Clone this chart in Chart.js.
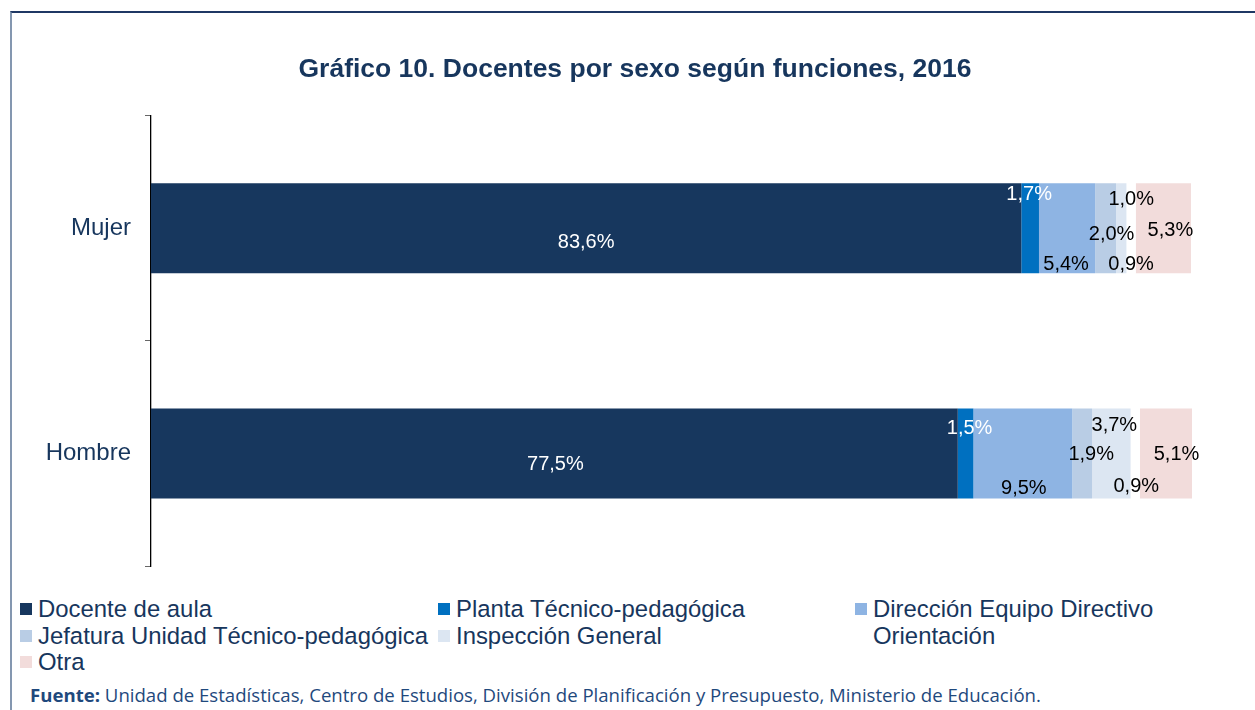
<!DOCTYPE html>
<html>
<head>
<meta charset="utf-8">
<script src="https://cdn.jsdelivr.net/npm/chart.js@4"></script>
<style>
  body { margin: 0; background: #fff; width: 1255px; height: 710px; overflow: hidden; position: relative; font-family: "Liberation Sans", Arial, sans-serif; }
  #frame { position: absolute; left: 10px; top: 11px; width: 1300px; height: 800px; border-top: 2px solid #1F3864; border-left: 2px solid #8497B0; }
  #wrap { position: absolute; left: 0; top: 0; width: 1270px; height: 580px; }
  #legend { position: absolute; left: 20px; top: 595px; display: grid; grid-template-columns: 418px 417px 400px; grid-auto-rows: 26.5px; }
  .item { display: flex; align-items: flex-start; color: #17365D; font-size: 23.9px; line-height: 27px; white-space: nowrap; }
  .box { width: 12px; height: 12px; margin: 8px 6px 0 0; flex: none; }
  #source { position: absolute; left: 30px; top: 682px; font-family: "Open Sans", sans-serif; font-size: 18.6px; color: #1F497D; white-space: nowrap; }
</style>
</head>
<body>
<div id="frame"></div>
<div id="wrap"><canvas id="chart"></canvas></div>
<div id="legend"></div>
<div id="source"><b>Fuente:</b> Unidad de Estadísticas, Centro de Estudios, División de Planificación y Presupuesto, Ministerio de Educación.</div>
<script>
const categories = ["Mujer", "Hombre"];
const seriesNames = ["Docente de aula", "Planta Técnico-pedagógica", "Dirección Equipo Directivo",
  "Jefatura Unidad Técnico-pedagógica", "Inspección General", "Orientación", "Otra"];
const docenteAula = [83.6, 77.5];
const plantaTecnica = [1.7, 1.5];
const direccion = [5.4, 9.5];
const jefatura = [2.0, 1.9];
const inspeccion = [1.0, 3.7];
const orientacion = [0.9, 0.9];
const otra = [5.3, 5.1];

const seriesValues = [docenteAula, plantaTecnica, direccion, jefatura, inspeccion, orientacion, otra];
const colors = ["#17375E", "#0070C0", "#8EB4E3", "#B9CDE5", "#DCE6F2", "#FFFFFF", "#F2DCDB"];
const labelColors = ["#fff", "#fff", "#000", "#000", "#000", "#000", "#000"];
// manual label nudges (dx, dy) per series, per category, like in the original sheet
const labelShift = [
  [[0, 14], [1, 11]],
  [[-1, -34], [4, -25]],
  [[-1, 36], [1, 35]],
  [[6, 6], [9, 1]],
  [[10, -29], [3, -28]],
  [[0, 36], [1, 33]],
  [[7, 2], [10, 1]]
];

const legendEl = document.getElementById("legend");
seriesNames.forEach((name, i) => {
  const d = document.createElement("div");
  d.className = "item";
  d.innerHTML = `<span class="box" style="background:${colors[i]}"></span><span>${name}</span>`;
  legendEl.appendChild(d);
});

const barLabels = {
  id: "barLabels",
  afterDatasetsDraw(chart) {
    const ctx = chart.ctx;
    ctx.save();
    ctx.font = "20px 'Liberation Sans', Arial";
    ctx.textAlign = "center";
    ctx.textBaseline = "middle";
    chart.data.datasets.forEach((ds, i) => {
      chart.getDatasetMeta(i).data.forEach((bar, j) => {
        const cx = (bar.x + bar.base) / 2 + labelShift[i][j][0];
        const cy = bar.y + labelShift[i][j][1];
        ctx.fillStyle = labelColors[i];
        ctx.fillText(ds.data[j].toFixed(1).replace(".", ",") + "%", cx, cy);
      });
    });
    ctx.restore();
  }
};

new Chart(document.getElementById("chart"), {
  type: "bar",
  data: {
    labels: categories,
    datasets: seriesNames.map((name, i) => ({
      label: name,
      data: seriesValues[i],
      backgroundColor: colors[i],
      borderWidth: 0,
      categoryPercentage: 0.4,
      barPercentage: 1
    }))
  },
  options: {
    indexAxis: "y",
    responsive: true,
    maintainAspectRatio: false,
    animation: false,
    layout: { padding: { left: 0, right: 0, top: 0, bottom: 14 } },
    plugins: {
      legend: { display: false },
      tooltip: { enabled: false },
      title: {
        display: true,
        text: "Gráfico 10. Docentes por sexo según funciones, 2016",
        color: "#17365D",
        font: { family: "'Liberation Sans', Arial", size: 26.5, weight: "bold" },
        padding: { top: 54, bottom: 30 }
      }
    },
    scales: {
      x: { stacked: true, min: 0, max: 100, display: false },
      y: {
        stacked: true,
        afterFit(scale) {
          scale.width = 151;
          scale.paddingTop = 0;
          scale.paddingBottom = 0;
        },
        border: { color: "#000", width: 1.3 },
        grid: { drawOnChartArea: false, drawTicks: true, tickLength: 6, color: "#666" },
        ticks: { color: "#17365D", padding: 14, font: { family: "'Liberation Sans', Arial", size: 24 } }
      },
      // empty right-hand margin so the title centres on the whole frame
      yRight: {
        type: "category",
        position: "right",
        afterFit(scale) {
          scale.width = 78;
          scale.paddingTop = 0;
          scale.paddingBottom = 0;
        },
        border: { display: false },
        grid: { display: false },
        ticks: { display: false }
      }
    }
  },
  plugins: [barLabels]
});
</script>
</body>
</html>
